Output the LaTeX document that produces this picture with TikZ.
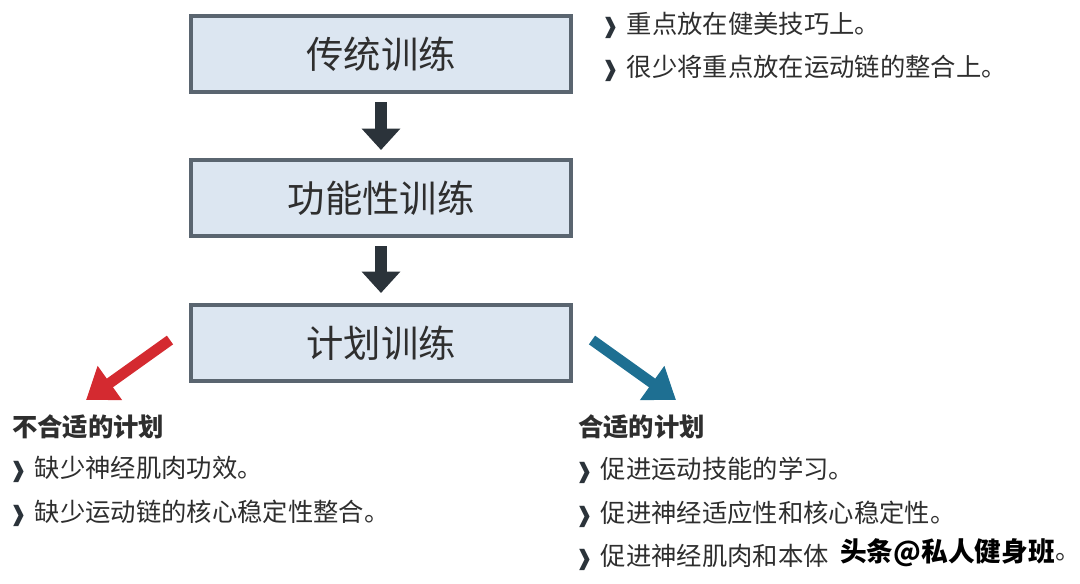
\documentclass[tikz,border=0pt]{standalone}
\usepackage{fontspec}
\setmainfont{Noto Sans CJK SC}
\newfontfamily\dvs{DejaVu Sans}
\usetikzlibrary{arrows.meta}
\definecolor{boxfill}{HTML}{DCE6F1}
\definecolor{boxdraw}{HTML}{5A6570}
\definecolor{txt}{HTML}{2E2E2E}
\definecolor{darr}{HTML}{2B333A}
\definecolor{redarr}{HTML}{D42A30}
\definecolor{bluearr}{HTML}{1E6F92}
\newcommand{\bl}{{\dvs\bfseries\fontsize{16}{16}\selectfont\color{darr}\char"2771}\hspace{0.3em}}
\begin{document}
\begin{tikzpicture}[x=0.75pt,y=-0.75pt,
  flowbox/.style={draw=boxdraw,line width=3pt,fill=boxfill,minimum width=380*0.75pt,minimum height=76*0.75pt,font=\fontsize{28}{30}\selectfont,text=txt},
  side/.style={anchor=west,font=\fontsize{19}{20}\selectfont,text=txt,inner sep=0pt},
  head/.style={side,font=\fontsize{19}{20}\selectfont\bfseries},
  downarr/.style={-{Triangle[length=16pt,width=28pt]},line width=9pt,darr},
  fatarr/.style={-{Triangle[length=22pt,width=30pt]},line width=8pt}]
\useasboundingbox (0,0) rectangle (1080,583);
\node[flowbox] (b1) at (381,54) {传统训练};
\node[flowbox] (b2) at (381,198) {功能性训练};
\node[flowbox] (b3) at (381,343) {计划训练};
\draw[downarr] (b1.south) ++(0,8) coordinate (a1s) -- ++(0,48) coordinate (a1e);
\draw[downarr] (b2.south) ++(0,8) coordinate (a2s) -- ++(0,47) coordinate (a2e);
\coordinate (rs) at (170,340); \coordinate (re) at (86,400);
\coordinate (bs) at (592,340); \coordinate (be) at (676,400);
\draw[fatarr,redarr] (rs) -- (re);
\draw[fatarr,bluearr] (bs) -- (be);
\node[side] (t1) at (601,25) {\bl 重点放在健美技巧上。};
\node[side] (t2) at (601,68) {\bl 很少将重点放在运动链的整合上。};
\node[head] (h1) at (12,427) {不合适的计划};
\node[side] (l1) at (9,469) {\bl 缺少神经肌肉功效。};
\node[side] (l2) at (9,513) {\bl 缺少运动链的核心稳定性整合。};
\node[head] (h2) at (578,427) {合适的计划};
\node[side] (r1) at (575,470) {\bl 促进运动技能的学习。};
\node[side] (r2) at (575,514) {\bl 促进神经适应性和核心稳定性。};
\node[side] (r3) at (575,557) {\bl 促进神经肌肉和本体};
\node[anchor=west,inner sep=0pt,font=\fontsize{20}{22}\selectfont\bfseries,text=black] (wm) at (840,553) {头条@私人健身班};
\node[side,anchor=west] (r3e) at (wm.east |- r3) {。};
\end{tikzpicture}
\end{document}
